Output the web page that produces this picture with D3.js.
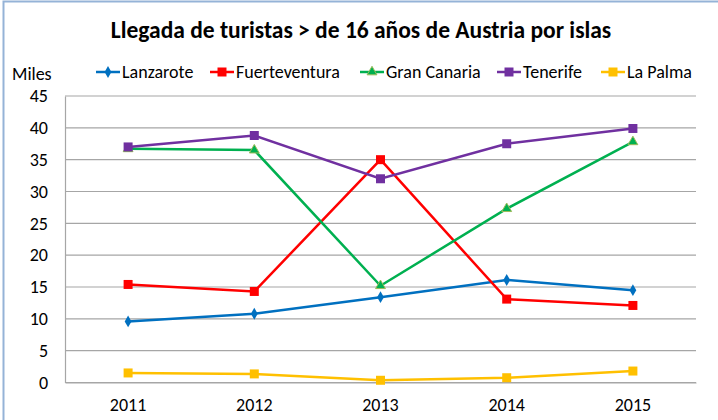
<!DOCTYPE html>
<html><head><meta charset="utf-8">
<script src="https://cdn.jsdelivr.net/npm/d3@7"></script>
<style>body{margin:0;background:#fff}svg{display:block;font-family:Carlito,Calibri,"Open Sans",sans-serif}</style>
</head><body><svg id="c" width="718" height="420"></svg>
<script>
const years = ["2011","2012","2013","2014","2015"];
const lanzarote = [9.6, 10.8, 13.4, 16.1, 14.5];
const fuerteventura = [15.4, 14.3, 35.0, 13.1, 12.1];
const granCanaria = [36.7, 36.5, 15.2, 27.3, 37.8];
const tenerife = [37.0, 38.8, 32.0, 37.5, 39.9];
const laPalma = [1.5, 1.35, 0.35, 0.75, 1.8];
const yTicks = [0,5,10,15,20,25,30,35,40,45];

const series = [
  {name:"Lanzarote", values:lanzarote, color:"#0070C0", marker:"diamond"},
  {name:"Fuerteventura", values:fuerteventura, color:"#FF0000", marker:"square"},
  {name:"Gran Canaria", values:granCanaria, color:"#00B050", marker:"triangle"},
  {name:"Tenerife", values:tenerife, color:"#7030A0", marker:"square"},
  {name:"La Palma", values:laPalma, color:"#FFC000", marker:"square"}
];

const FONT = "Carlito,Calibri,'Open Sans',sans-serif";
const svg = d3.select("#c");
const mL=65,mR=696,mT=96,mB=382.5;

// border
svg.append("path").attr("d",`M3.5,420 V1.5 H718`).attr("fill","none").attr("stroke","#95B3D7").attr("stroke-width",2);

const x = d3.scaleBand().domain(years).range([mL,mR]);
const y = d3.scaleLinear().domain([0,45]).range([mB,mT]);

// gridlines
svg.append("g").selectAll("line").data(yTicks).join("line")
  .attr("x1",mL).attr("x2",mR).attr("y1",d=>y(d)).attr("y2",d=>y(d))
  .attr("stroke","#A6A6A6").attr("stroke-width",1.2);

// y axis
const yAxis = d3.axisLeft(y).tickValues(yTicks).tickSize(0).tickPadding(17);
const gy = svg.append("g").attr("transform",`translate(${mL},0)`).call(yAxis);
gy.attr("font-family",FONT).attr("font-size",18);
gy.select(".domain").attr("stroke","#A6A6A6").attr("stroke-width",1.2);
gy.selectAll("text").attr("fill","#000");

const xAxis = d3.axisBottom(x).tickSize(0).tickPadding(16);
const gx = svg.append("g").attr("transform",`translate(0,${mB})`).call(xAxis);
gx.attr("font-family",FONT).attr("font-size",18);
gx.select(".domain").attr("stroke","#A6A6A6").attr("stroke-width",1.2);
gx.selectAll("text").attr("fill","#000");

function markerPath(type){
  if(type==="diamond") return d3.symbol(d3.symbolDiamond, 40)();
  if(type==="triangle") return d3.symbol(d3.symbolTriangle, 42)();
  return d3.symbol(d3.symbolSquare, 81)();
}

const line = d3.line().x((d,i)=>x(years[i])+x.bandwidth()/2).y(d=>y(d));
series.forEach(s=>{
  svg.append("path").datum(s.values).attr("d",line).attr("fill","none")
    .attr("stroke",s.color).attr("stroke-width",2.5);
  svg.append("g").selectAll("path").data(s.values).join("path")
    .attr("transform",(d,i)=>`translate(${x(years[i])+x.bandwidth()/2},${y(d)})`)
    .attr("d",markerPath(s.marker))
    .attr("fill",s.color)
    .attr("stroke",s.marker==="triangle"?"#9BBB59":"none").attr("stroke-width",1);
});

// title
svg.append("text").attr("x",361).attr("y",38).attr("text-anchor","middle")
  .attr("font-size",23.5).attr("font-weight","bold").text("Llegada de turistas > de 16 años de Austria por islas");

// Miles
svg.append("text").attr("x",12).attr("y",80).attr("font-size",18).text("Miles");

// legend
const legX=[96,210,360,497,601];
series.forEach((s,i)=>{
  const g=svg.append("g").attr("transform",`translate(${legX[i]},72)`);
  g.append("line").attr("x1",0).attr("x2",24).attr("stroke",s.color).attr("stroke-width",2.5);
  g.append("path").attr("transform","translate(12,0)").attr("d",markerPath(s.marker))
    .attr("fill",s.color).attr("stroke",s.marker==="triangle"?"#9BBB59":"none");
  g.append("text").attr("x",26).attr("y",6).attr("font-size",18).text(s.name);
});
</script></body></html>
